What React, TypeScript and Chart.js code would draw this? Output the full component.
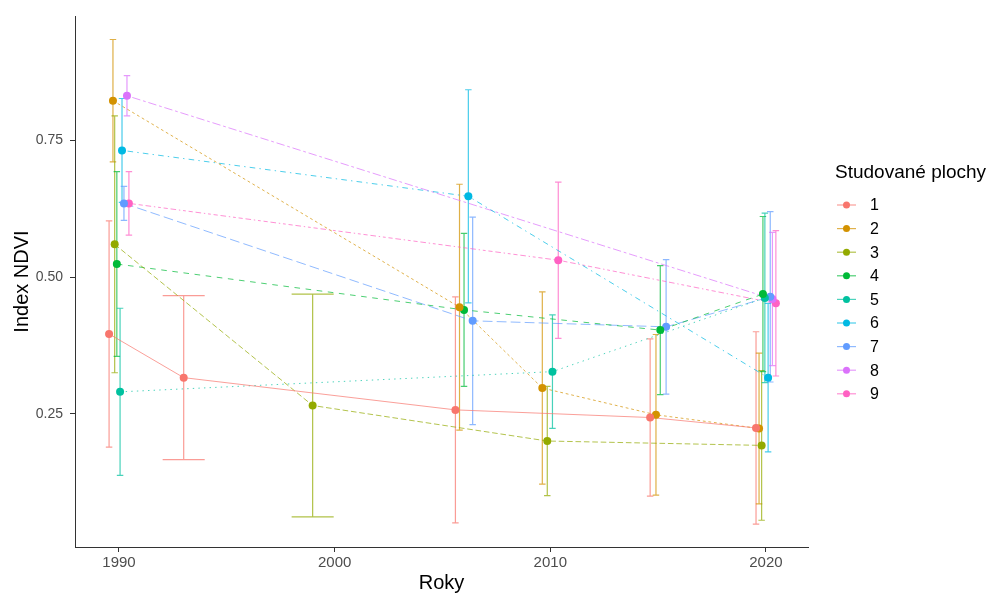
import React, { useEffect, useRef } from "react";
import { Chart, registerables } from "chart.js";

Chart.register(...registerables);

// ---- data ----
const SERIES_NAMES = ["1", "2", "3", "4", "5", "6", "7", "8", "9"];

const years1 = [1989.54, 1993.0, 2005.6, 2014.63, 2019.54];
const ndvi1 = [0.396, 0.316, 0.257, 0.243, 0.224];
const err1 = [0.207, 0.15, 0.207, 0.144, 0.176];

const years2 = [1989.72, 2005.79, 2009.63, 2014.9, 2019.68];
const ndvi2 = [0.823, 0.445, 0.297, 0.248, 0.223];
const err2 = [0.112, 0.225, 0.176, 0.147, 0.138];

const years3 = [1989.8, 1998.98, 2009.86, 2019.8];
const ndvi3 = [0.56, 0.265, 0.2, 0.192];
const err3 = [0.235, 0.204, 0.1, 0.137];

const years4 = [1989.9, 2006.0, 2015.1, 2019.86];
const ndvi4 = [0.524, 0.44, 0.403, 0.469];
const err4 = [0.169, 0.14, 0.118, 0.142];

const years5 = [1990.05, 2010.1, 2019.95];
const ndvi5 = [0.29, 0.327, 0.462];
const err5 = [0.153, 0.104, 0.155];

const years6 = [1990.14, 2006.2, 2020.1];
const ndvi6 = [0.732, 0.648, 0.316];
const err6 = [0.095, 0.195, 0.136];

const years7 = [1990.23, 2006.4, 2015.37, 2020.2];
const ndvi7 = [0.635, 0.42, 0.409, 0.464];
const err7 = [0.031, 0.19, 0.123, 0.156];

const years8 = [1990.37, 2020.3];
const ndvi8 = [0.832, 0.46];
const err8 = [0.037, 0.122];

const years9 = [1990.46, 2010.37, 2020.46];
const ndvi9 = [0.635, 0.531, 0.452];
const err9 = [0.058, 0.143, 0.133];

const X_TICKS = [1990, 2000, 2010, 2020];
const Y_TICKS = [0.25, 0.5, 0.75];
const Y_TICK_LABELS = ["0.25", "0.50", "0.75"];

const X_TITLE = "Roky";
const Y_TITLE = "Index NDVI";
const LEGEND_TITLE = "Studované plochy";

// ---- styles ----
const COLORS = [
  "#F8766D", "#D39200", "#93AA00", "#00BA38", "#00C19F",
  "#00B9E3", "#619CFF", "#DB72FB", "#FF61C3",
];
const U = 1.4;
const DASHES: number[][] = [
  [],
  [2, 2],
  [4, 2],
  [4, 4],
  [1, 3],
  [1, 3, 4, 3],
  [7, 3],
  [2, 2, 6, 2],
  [1, 2, 2, 2, 3, 2, 4, 2],
].map((d) => d.map((v) => v * U));

const FONT = "'Liberation Sans', Arial, Helvetica, sans-serif";

const ALL = [
  { years: years1, ndvi: ndvi1, err: err1 },
  { years: years2, ndvi: ndvi2, err: err2 },
  { years: years3, ndvi: ndvi3, err: err3 },
  { years: years4, ndvi: ndvi4, err: err4 },
  { years: years5, ndvi: ndvi5, err: err5 },
  { years: years6, ndvi: ndvi6, err: err6 },
  { years: years7, ndvi: ndvi7, err: err7 },
  { years: years8, ndvi: ndvi8, err: err8 },
  { years: years9, ndvi: ndvi9, err: err9 },
];

function alpha(hex: string, a: number) {
  const r = parseInt(hex.slice(1, 3), 16);
  const g = parseInt(hex.slice(3, 5), 16);
  const b = parseInt(hex.slice(5, 7), 16);
  return `rgba(${r},${g},${b},${a})`;
}

// cap width in years: wide for a survey year with a single series
const allYears = ALL.flatMap((s) => s.years);
function capYears(y: number) {
  const n = allYears.filter((v) => Math.abs(v - y) < 1.5).length;
  return n <= 1 ? 1.95 : 0.3;
}

const errorBarPlugin = {
  id: "errorbars",
  beforeDatasetsDraw(chart: any) {
    const { ctx, scales } = chart;
    const xs = scales.x;
    const ys = scales.y;
    ctx.save();
    ALL.forEach((s, i) => {
      ctx.strokeStyle = alpha(COLORS[i], 0.72);
      ctx.lineWidth = 1.2;
      ctx.setLineDash([]);
      s.years.forEach((yr, j) => {
        const x = xs.getPixelForValue(yr);
        const top = ys.getPixelForValue(s.ndvi[j] + s.err[j]);
        const bot = ys.getPixelForValue(s.ndvi[j] - s.err[j]);
        const hw = (xs.getPixelForValue(yr + capYears(yr) / 2) - xs.getPixelForValue(yr - capYears(yr) / 2)) / 2;
        ctx.beginPath();
        ctx.moveTo(x, top);
        ctx.lineTo(x, bot);
        ctx.moveTo(x - hw, top);
        ctx.lineTo(x + hw, top);
        ctx.moveTo(x - hw, bot);
        ctx.lineTo(x + hw, bot);
        ctx.stroke();
      });
    });
    ctx.restore();
  },
};

const legendPlugin = {
  id: "customLegend",
  afterDraw(chart: any) {
    const { ctx } = chart;
    ctx.save();
    ctx.fillStyle = "#000";
    ctx.font = `19px ${FONT}`;
    ctx.textAlign = "left";
    ctx.textBaseline = "middle";
    ctx.fillText(LEGEND_TITLE, 835, 173);
    SERIES_NAMES.forEach((name, i) => {
      const y = 205 + i * 23.6;
      ctx.strokeStyle = alpha(COLORS[i], 0.7);
      ctx.lineWidth = 1.2;
      ctx.setLineDash([]);
      ctx.beginPath();
      ctx.moveTo(837, y);
      ctx.lineTo(856, y);
      ctx.stroke();
      ctx.fillStyle = COLORS[i];
      ctx.beginPath();
      ctx.arc(846.5, y, 3.5, 0, Math.PI * 2);
      ctx.fill();
      ctx.fillStyle = "#000";
      ctx.font = `16px ${FONT}`;
      ctx.fillText(name, 870, y + 1);
    });
    ctx.restore();
  },
};

export default function App() {
  const ref = useRef<HTMLCanvasElement | null>(null);

  useEffect(() => {
    if (!ref.current) return;
    const lineSets = ALL.map((s, i) => ({
      label: SERIES_NAMES[i] + "-line",
      data: s.years.map((yr, j) => ({ x: yr, y: s.ndvi[j] })),
      showLine: true,
      borderColor: alpha(COLORS[i], 0.7),
      borderWidth: 1,
      borderDash: DASHES[i],
      pointRadius: 0,
      order: 2,
    }));
    const pointSets = ALL.map((s, i) => ({
      label: SERIES_NAMES[i],
      data: s.years.map((yr, j) => ({ x: yr, y: s.ndvi[j] })),
      showLine: false,
      backgroundColor: COLORS[i],
      borderColor: COLORS[i],
      borderWidth: 0,
      pointRadius: 4,
      order: 1,
    }));

    const chart = new Chart(ref.current, {
      type: "scatter",
      data: { datasets: [...lineSets, ...pointSets] as any },
      options: {
        animation: false,
        responsive: false,
        maintainAspectRatio: false,
        layout: { padding: { top: 16, right: 185, left: 0, bottom: 0 } },
        plugins: {
          legend: { display: false },
          tooltip: { enabled: false },
        },
        scales: {
          x: {
            type: "linear",
            min: 1987.96,
            max: 2021.95,
            afterFit(scale: any) {
              scale.height = 46;
            },
            afterBuildTicks(scale: any) {
              scale.ticks = X_TICKS.map((v) => ({ value: v }));
            },
            ticks: {
              color: "#4D4D4D",
              font: { family: FONT, size: 15 },
              padding: 2,
              maxRotation: 0,
              callback: (v: any) => String(v),
            },
            grid: {
              display: true,
              drawOnChartArea: false,
              drawTicks: true,
              tickLength: 5,
              color: "#333",
            },
            border: { display: true, color: "#333", width: 1 },
            title: {
              display: true,
              text: X_TITLE,
              color: "#000",
              font: { family: FONT, size: 20, lineHeight: 1 },
              padding: { top: -2, bottom: 0 },
            },
          },
          y: {
            type: "linear",
            min: 0.006,
            max: 0.978,
            afterFit(scale: any) {
              scale.width = 75;
            },
            afterBuildTicks(scale: any) {
              scale.ticks = Y_TICKS.map((v) => ({ value: v }));
            },
            ticks: {
              color: "#4D4D4D",
              font: { family: FONT, size: 14 },
              padding: 7,
              callback: (v: any) => {
                const k = Y_TICKS.indexOf(v);
                return k >= 0 ? Y_TICK_LABELS[k] : "";
              },
            },
            grid: {
              display: true,
              drawOnChartArea: false,
              drawTicks: true,
              tickLength: 5,
              color: "#333",
            },
            border: { display: true, color: "#333", width: 1 },
            title: {
              display: true,
              text: Y_TITLE,
              color: "#000",
              font: { family: FONT, size: 20 },
              padding: { top: 10, bottom: 0 },
            },
          },
        },
      },
      plugins: [errorBarPlugin, legendPlugin],
    });
    return () => chart.destroy();
  }, []);

  return (
    <div style={{ position: "fixed", left: 0, top: 0, width: 993, height: 593, background: "#fff" }}>
      <canvas ref={ref} width={993} height={593} style={{ width: 993, height: 593, display: "block" }} />
    </div>
  );
}
